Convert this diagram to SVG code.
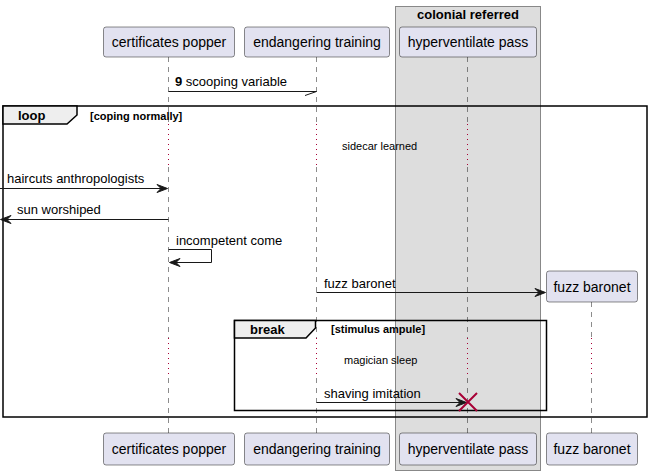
<svg xmlns="http://www.w3.org/2000/svg" width="652" height="475" viewBox="0 0 652 475">
<defs>
<style>
.p{fill:#E2E2F0;stroke:#181818;stroke-width:0.5}
.pt{font-family:"Liberation Sans",Arial,sans-serif;font-size:14px;fill:#000;text-anchor:middle}
.life{stroke:#181818;stroke-width:0.5;stroke-dasharray:5,5;fill:none}
.dly{stroke:#A80036;stroke-width:1;stroke-dasharray:1,4;fill:none}
.msg{stroke:#181818;stroke-width:1;fill:none}
.mt{font-family:"Liberation Sans",Arial,sans-serif;font-size:13px;fill:#000}
.dt{font-family:"Liberation Sans",Arial,sans-serif;font-size:11px;fill:#000}
.fr{fill:none;stroke:#000;stroke-width:1.5}
.tab{fill:#EEEEEE;stroke:#000;stroke-width:1.5}
.ft{font-family:"Liberation Sans",Arial,sans-serif;font-size:13px;font-weight:bold;fill:#000}
.ct{font-family:"Liberation Sans",Arial,sans-serif;font-size:11px;font-weight:bold;fill:#000}
.ah{fill:#181818;stroke:#181818;stroke-width:1}
</style>
</defs>
<rect width="652" height="475" fill="#FFFFFF"/>
<g id="box-colonial-referred">
<rect x="395.5" y="6.5" width="145" height="464" fill="#DDDDDD" stroke="#888888" stroke-width="1"/>
<text x="468" y="19" class="ft" text-anchor="middle">colonial referred</text>
</g>
<g id="lifelines">
<path class="life" d="M168.5,57V124M168.5,167V338M168.5,378V433"/>
<path class="life" d="M316.5,57V124M316.5,167V338M316.5,378V433"/>
<path class="life" d="M467.5,57V124M467.5,167V338M467.5,378V433"/>
<path class="life" d="M591.5,302V338M591.5,378V433"/>
<path class="dly" d="M168.5,124V167M316.5,124V167M467.5,124V167"/>
<path class="dly" d="M168.5,338V378M316.5,338V378M467.5,338V378M591.5,338V378"/>
</g>
<g id="p-certificates-popper">
<rect class="p" x="103.5" y="27" width="131" height="30" rx="2.5"/>
<text class="pt" x="169" y="47">certificates popper</text>
<rect class="p" x="103.5" y="433" width="131" height="32" rx="2.5"/>
<text class="pt" x="169" y="454">certificates popper</text>
</g>
<g id="p-endangering-training">
<rect class="p" x="244.5" y="27" width="145" height="30" rx="2.5"/>
<text class="pt" x="317" y="47">endangering training</text>
<rect class="p" x="244.5" y="433" width="145" height="32" rx="2.5"/>
<text class="pt" x="317" y="454">endangering training</text>
</g>
<g id="p-hyperventilate-pass">
<rect class="p" x="399.5" y="27" width="137" height="30" rx="2.5"/>
<text class="pt" x="468" y="47">hyperventilate pass</text>
<rect class="p" x="399.5" y="433" width="137" height="32" rx="2.5"/>
<text class="pt" x="468" y="454">hyperventilate pass</text>
</g>
<g id="p-fuzz-baronet">
<rect class="p" x="546.5" y="271" width="91" height="31" rx="2.5"/>
<text class="pt" x="592" y="292">fuzz baronet</text>
<rect class="p" x="546.5" y="433" width="91" height="32" rx="2.5"/>
<text class="pt" x="592" y="454">fuzz baronet</text>
</g>
<g id="frame-loop">
<rect class="fr" x="3" y="106" width="644" height="311"/>
<path class="tab" d="M3,106H77V115L67,124H3Z"/>
<text class="ft" x="18" y="120">loop</text>
<text class="ct" x="90" y="120">[coping normally]</text>
</g>
<g id="frame-break">
<rect class="fr" x="234.5" y="320.5" width="312" height="90"/>
<path class="tab" d="M234.5,320.5H315.5V328L306,338H234.5Z"/>
<text class="ft" x="250" y="334">break</text>
<text class="ct" x="331" y="333">[stimulus ampule]</text>
</g>
<g id="delays">
<text class="dt" x="342" y="150">sidecar learned</text>
<text class="dt" x="344" y="364">magician sleep</text>
</g>
<g id="connectors">
<g id="m1">
<path class="msg" d="M168.5,91.5H316.5M305,95.5L316.5,91.5"/>
<text class="mt" x="175" y="86"><tspan font-weight="bold">9</tspan> scooping variable</text>
</g>
<g id="m2">
<path class="msg" d="M0,188.5H166"/>
<polygon class="ah" points="157,184.5 167.5,188.5 157,192.5 161,188.5"/>
<text class="mt" x="7" y="183">haircuts anthropologists</text>
</g>
<g id="m3">
<path class="msg" d="M2,219.5H168.5"/>
<polygon class="ah" points="11,215.5 0.5,219.5 11,223.5 7,219.5"/>
<text class="mt" x="17" y="214">sun worshiped</text>
</g>
<g id="m4">
<path class="msg" d="M168.5,249.5H211.5V262.5H170"/>
<polygon class="ah" points="180,258.5 169.5,262.5 180,266.5 176,262.5"/>
<text class="mt" x="176" y="245">incompetent come</text>
</g>
<g id="m5">
<path class="msg" d="M316.5,292.5H544"/>
<polygon class="ah" points="535,288.5 545.5,292.5 535,296.5 539,292.5"/>
<text class="mt" x="324" y="288">fuzz baronet</text>
</g>
<g id="m6">
<path class="msg" d="M316.5,402.5H465"/>
<polygon class="ah" points="456,398.5 466.5,402.5 456,406.5 460,402.5"/>
<text class="mt" x="324" y="398">shaving imitation</text>
<path d="M459,393L477,411M477,393L459,411" stroke="#A80036" stroke-width="2" fill="none"/>
</g>
</g>
</svg>
